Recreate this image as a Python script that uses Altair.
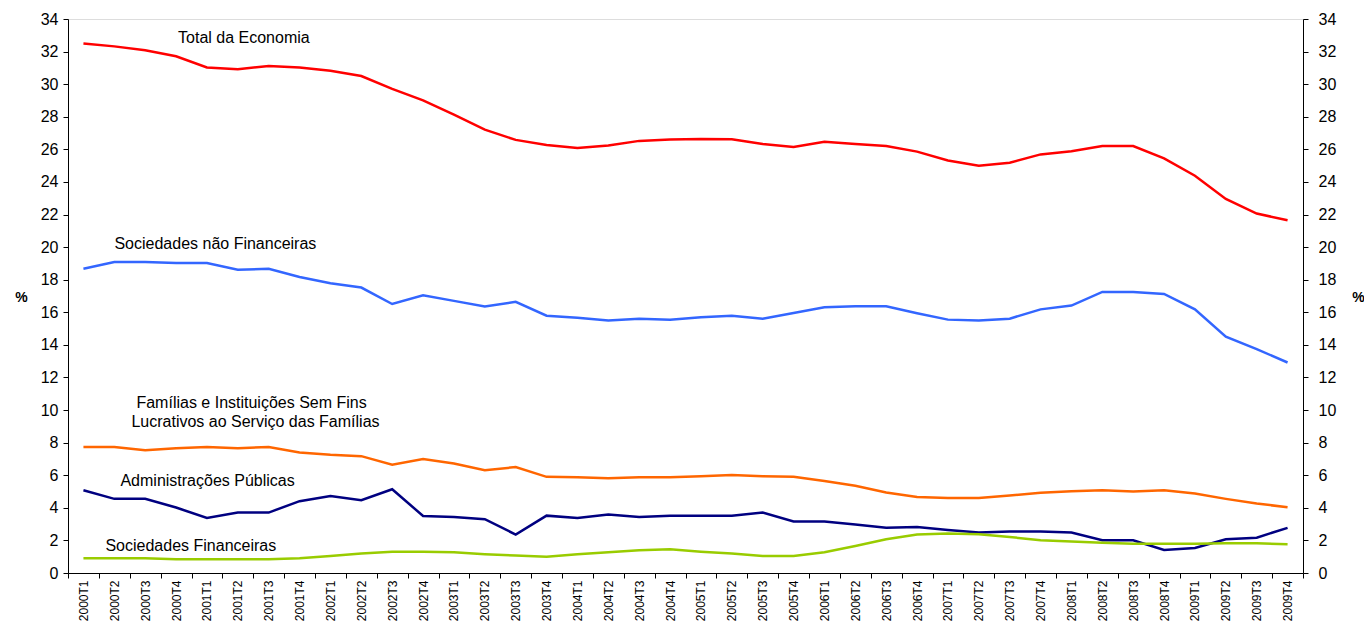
import altair as alt
import pandas as pd

quarters = [
    "2000T1", "2000T2", "2000T3", "2000T4", "2001T1", "2001T2", "2001T3", "2001T4",
    "2002T1", "2002T2", "2002T3", "2002T4", "2003T1", "2003T2", "2003T3", "2003T4",
    "2004T1", "2004T2", "2004T3", "2004T4", "2005T1", "2005T2", "2005T3", "2005T4",
    "2006T1", "2006T2", "2006T3", "2006T4", "2007T1", "2007T2", "2007T3", "2007T4",
    "2008T1", "2008T2", "2008T3", "2008T4", "2009T1", "2009T2", "2009T3", "2009T4",
]

total = [32.49, 32.32, 32.08, 31.71, 31.03, 30.91, 31.12, 31.03, 30.83, 30.50,
         29.71, 29.01, 28.13, 27.21, 26.58, 26.27, 26.09, 26.23, 26.52, 26.60,
         26.64, 26.62, 26.33, 26.14, 26.47, 26.33, 26.20, 25.86, 25.32, 25.00,
         25.18, 25.69, 25.88, 26.20, 26.20, 25.45, 24.38, 22.96, 22.06, 21.65]
snf = [18.67, 19.08, 19.08, 19.02, 19.02, 18.61, 18.67, 18.17, 17.78, 17.52,
       16.51, 17.05, 16.70, 16.35, 16.64, 15.79, 15.67, 15.49, 15.61, 15.55,
       15.69, 15.79, 15.61, 15.96, 16.31, 16.37, 16.37, 15.94, 15.55, 15.49,
       15.61, 16.18, 16.41, 17.25, 17.25, 17.13, 16.18, 14.50, 13.74, 12.92]
familias = [7.73, 7.73, 7.54, 7.66, 7.73, 7.66, 7.73, 7.40, 7.25, 7.17,
            6.64, 6.99, 6.72, 6.31, 6.50, 5.90, 5.88, 5.82, 5.88, 5.88,
            5.94, 6.02, 5.94, 5.90, 5.64, 5.35, 4.94, 4.67, 4.61, 4.61,
            4.75, 4.92, 5.02, 5.08, 5.00, 5.08, 4.88, 4.55, 4.26, 4.04]
admin = [5.08, 4.55, 4.55, 4.02, 3.38, 3.71, 3.71, 4.41, 4.73, 4.47,
         5.14, 3.50, 3.44, 3.30, 2.36, 3.52, 3.38, 3.59, 3.44, 3.52,
         3.52, 3.52, 3.71, 3.16, 3.16, 2.97, 2.77, 2.83, 2.64, 2.48,
         2.54, 2.54, 2.48, 2.01, 2.01, 1.41, 1.54, 2.07, 2.17, 2.77]
financeiras = [0.90, 0.90, 0.90, 0.84, 0.84, 0.84, 0.84, 0.90, 1.05, 1.19,
               1.31, 1.31, 1.27, 1.15, 1.07, 1.00, 1.15, 1.27, 1.39, 1.45,
               1.31, 1.19, 1.05, 1.05, 1.27, 1.66, 2.07, 2.36, 2.42, 2.38,
               2.21, 2.01, 1.93, 1.86, 1.80, 1.80, 1.80, 1.82, 1.82, 1.76]

series_names = ["Total da Economia", "Sociedades não Financeiras",
                "Famílias e ISFLSF", "Administrações Públicas", "Sociedades Financeiras"]
series_values = [total, snf, familias, admin, financeiras]
series_colors = ["#FF0000", "#3366FF", "#FF6600", "#000080", "#99CC00"]

label_texts = ["Total da Economia", "Sociedades não Financeiras",
               "Famílias e Instituições Sem Fins", "Lucrativos ao Serviço das Famílias",
               "Administrações Públicas", "Sociedades Financeiras"]
label_quarters = ["2000T4", "2000T1", "2000T1", "2000T1", "2000T1", "2000T1"]
label_values = [32.82, 20.18, 10.43, 9.26, 5.64, 1.66]
label_dx = [2, 31, 53, 48, 37, 22]

rows = []
for name, vals in zip(series_names, series_values):
    for i, (q, v) in enumerate(zip(quarters, vals)):
        rows.append({"serie": name, "quarter": q, "idx": i, "value": v})
df = pd.DataFrame(rows)

FONT = "Liberation Sans"
W, H = 1235, 554

xscale = alt.Scale(type="band", paddingInner=0, paddingOuter=0)
yscale = alt.Scale(domain=[0, 34], nice=False, zero=True)
yticks = list(range(0, 35, 2))

x_axis = alt.Axis(title=None, labelAngle=-90, labelFontSize=12, labelFont=FONT,
                  labelColor="black", tickBand="extent", tickSize=5, tickColor="black",
                  domainColor="black", labelPadding=2, grid=False, labelOverlap=False)

left_axis = alt.Axis(values=yticks, title="%", titleAngle=0, titleFontWeight="bold",
                     titleFontSize=14, titleFont=FONT, titleAlign="center",
                     titleBaseline="middle", titleX=-47, titleY=278,
                     labelFontSize=16, labelFont=FONT, labelColor="black",
                     tickSize=5, tickColor="black", domainColor="black",
                     labelPadding=5, grid=False)
right_axis = alt.Axis(values=yticks, orient="right", title="%", titleAngle=0,
                      titleFontWeight="bold", titleFontSize=14, titleFont=FONT,
                      titleAlign="center", titleBaseline="middle", titleX=55, titleY=278,
                      labelFontSize=16, labelFont=FONT, labelColor="black",
                      tickSize=5, tickColor="black", domainColor="black",
                      labelPadding=10, grid=False)

xenc = alt.X("quarter:N", sort=quarters, scale=xscale, axis=x_axis, bandPosition=0.5)

lines = alt.Chart(df).mark_line(strokeWidth=2.5).encode(
    x=xenc,
    y=alt.Y("value:Q", scale=yscale, axis=left_axis),
    color=alt.Color("serie:N", scale=alt.Scale(domain=series_names, range=series_colors), legend=None),
    order="idx:Q",
)

right = alt.Chart(df).mark_line(opacity=0).encode(
    x=xenc,
    y=alt.Y("value:Q", scale=yscale, axis=right_axis),
    detail="serie:N",
)

layers = [lines, right]
for t, q, v, dx in zip(label_texts, label_quarters, label_values, label_dx):
    ldf = pd.DataFrame({"quarter": [q], "value": [v], "label": [t]})
    layers.append(
        alt.Chart(ldf).mark_text(align="left", baseline="middle", dx=dx, fontSize=16,
                                 font=FONT, color="black").encode(
            x=xenc,
            y=alt.Y("value:Q", scale=yscale, axis=None),
            text="label:N",
        )
    )

chart = alt.layer(*layers).resolve_scale(y="independent").properties(
    width=W, height=H,
    autosize=alt.AutoSizeParams(type="none"),
    padding={"left": 60, "top": 11, "right": 61, "bottom": 48},
).configure_view(stroke=None).configure(background="white")

chart.save("out.html", embed_options={"renderer": "svg", "actions": False})
